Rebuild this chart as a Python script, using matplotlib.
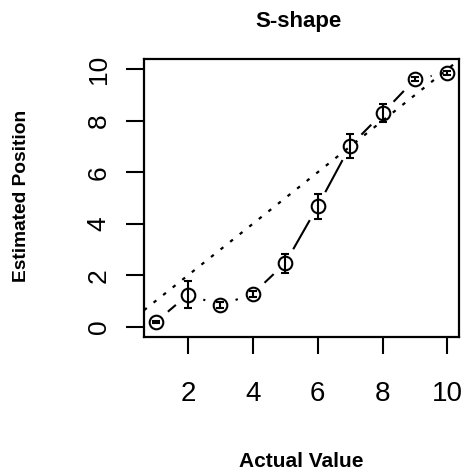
import matplotlib
matplotlib.use("Agg")
import matplotlib.pyplot as plt
import numpy as np

# ---- data ----
actual = [1, 2, 3, 4, 5, 6, 7, 8, 9, 10]
estimated = [0.18, 1.25, 0.83, 1.28, 2.47, 4.68, 7.02, 8.29, 9.61, 9.87]
errors = [0.03, 0.53, 0.12, 0.12, 0.37, 0.49, 0.48, 0.35, 0.08, 0.08]
x_ticks = [2, 4, 6, 8, 10]
y_ticks = [0, 2, 4, 6, 8, 10]
title = "S-shape"
x_label = "Actual Value"
y_label = "Estimated Position"

plt.rcParams['font.family'] = ['Liberation Sans', 'DejaVu Sans']

W, H = 468, 469
fig = plt.figure(figsize=(W / 100, H / 100), dpi=100)
ax = fig.add_axes([144 / W, 1 - 337 / H, (459 - 144) / W, (337 - 59) / H])
ax.set_xlim(0.64, 10.36)
ax.set_ylim(-0.4, 10.4)

lw = 1.5
for s in ax.spines.values():
    s.set_linewidth(1.6)

# identity reference line (dotted)
ax.axline((0, 0), slope=1, color='black', lw=1.6, dashes=(1.6, 3.9), zorder=1)

# connecting line with gaps around points (R type="b")
fig.canvas.draw()
pts = ax.transData.transform(np.column_stack([actual, estimated]))
gap = 16.0
inv = ax.transData.inverted()
for i in range(len(pts) - 1):
    p0, p1 = pts[i], pts[i + 1]
    d = p1 - p0
    L = np.hypot(*d)
    if L > 2 * gap:
        u = d / L
        a = inv.transform(p0 + u * gap)
        b = inv.transform(p1 - u * gap)
        ax.plot([a[0], b[0]], [a[1], b[1]], color='black', lw=lw,
                solid_capstyle='butt', zorder=2)

# points with error bars
ax.errorbar(actual, estimated, yerr=errors, fmt='o', ms=9.8, mfc='none',
            mec='black', mew=lw, ecolor='black', elinewidth=lw,
            capsize=2.6, capthick=lw, zorder=3)

ax.set_xticks(x_ticks)
ax.set_yticks(y_ticks)
ax.set_xticklabels([str(t) for t in x_ticks], fontsize=20)
ax.set_yticklabels([str(t) for t in y_ticks], fontsize=19, rotation=90,
                   va='center')
ax.tick_params(axis='x', length=12.5, width=1.5, pad=19)
ax.tick_params(axis='y', length=13, width=1.5, pad=11)

fig.text(298 / W, 1 - 21 / H, title, ha='center', va='center',
         fontsize=16, fontweight='bold')
fig.text(301 / W, 1 - 461 / H, x_label, ha='center', va='center',
         fontsize=15, fontweight='bold')
fig.text(22 / W, 1 - 196 / H, y_label, ha='center', va='center',
         rotation=90, fontsize=13.8, fontweight='bold')

fig.savefig("out.png", dpi=100)
